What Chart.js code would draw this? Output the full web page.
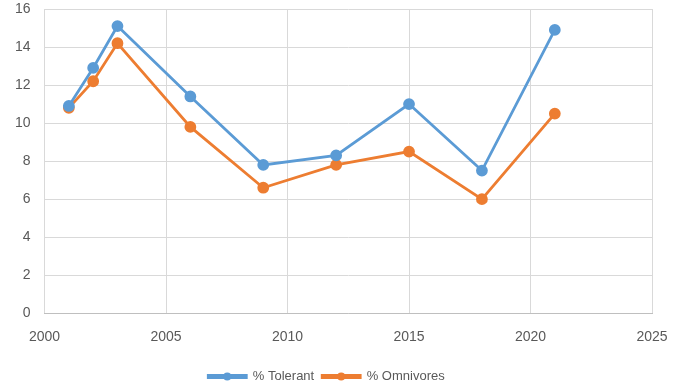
<!DOCTYPE html>
<html>
<head>
<meta charset="utf-8">
<script src="https://cdn.jsdelivr.net/npm/chart.js@4"></script>
<style>
  html, body { margin: 0; padding: 0; background: #fff; }
  #wrap { width: 687px; height: 387px; }
</style>
</head>
<body>
<div id="wrap"><canvas id="c" width="687" height="387"></canvas></div>
<script>
const years = [2001, 2002, 2003, 2006, 2009, 2012, 2015, 2018, 2021];
const tolerant = [10.9, 12.9, 15.1, 11.4, 7.8, 8.3, 11.0, 7.5, 14.9];
const omnivores = [10.8, 12.2, 14.2, 9.8, 6.6, 7.8, 8.5, 6.0, 10.5];

const blue = '#5b9bd5';
const orange = '#ed7d31';

const toXY = (vals) => years.map((y, i) => ({ x: y, y: vals[i] }));

// draws the marker dot on top of each legend line
const legendDots = {
  id: 'legendDots',
  afterDraw(chart) {
    const lg = chart.legend;
    if (!lg || !lg.legendHitBoxes) return;
    const ctx = chart.ctx;
    const bw = lg.options.labels.boxWidth;
    lg.legendHitBoxes.forEach((box, i) => {
      const ds = chart.data.datasets[i];
      ctx.save();
      ctx.fillStyle = ds.borderColor;
      ctx.beginPath();
      ctx.arc(box.left + bw / 2, box.top + box.height / 2, 4, 0, Math.PI * 2);
      ctx.fill();
      ctx.restore();
    });
  }
};

new Chart(document.getElementById('c'), {
  type: 'line',
  data: {
    datasets: [
      {
        label: '% Tolerant',
        data: toXY(tolerant),
        borderColor: blue,
        backgroundColor: blue,
        borderWidth: 2.8,
        pointRadius: 4.5,
        pointHoverRadius: 4.5,
        tension: 0,
      },
      {
        label: '% Omnivores',
        data: toXY(omnivores),
        borderColor: orange,
        backgroundColor: orange,
        borderWidth: 2.8,
        pointRadius: 4.5,
        pointHoverRadius: 4.5,
        tension: 0,
      },
    ],
  },
  options: {
    responsive: false,
    animation: false,
    layout: { autoPadding: false, padding: { left: 1, right: 35, top: 9, bottom: -6 } },
    scales: {
      x: {
        type: 'linear',
        min: 2000,
        max: 2025,
        ticks: {
          stepSize: 5,
          color: '#595959',
          font: { size: 14, family: 'Liberation Sans' },
          callback: (v) => String(v),
          padding: 16,
          maxRotation: 0,
        },
        grid: { color: '#d9d9d9', drawTicks: false },
        border: { color: '#bfbfbf' },
      },
      y: {
        min: 0,
        max: 16,
        ticks: {
          stepSize: 2,
          color: '#595959',
          font: { size: 14, family: 'Liberation Sans' },
          padding: 14,
        },
        grid: { color: '#d9d9d9', drawTicks: false },
        border: { display: false },
        // tick padding would otherwise push the plot top down
        afterFit(scale) {
          scale.paddingTop = 0;
          scale.paddingBottom = 0;
        },
      },
    },
    plugins: {
      legend: {
        position: 'bottom',
        labels: {
          color: '#595959',
          font: { size: 13, family: 'Liberation Sans' },
          boxWidth: 38,
          boxHeight: 2,
          padding: 8,
        },
      },
      tooltip: { enabled: false },
    },
  },
  plugins: [legendDots],
});
</script>
</body>
</html>
